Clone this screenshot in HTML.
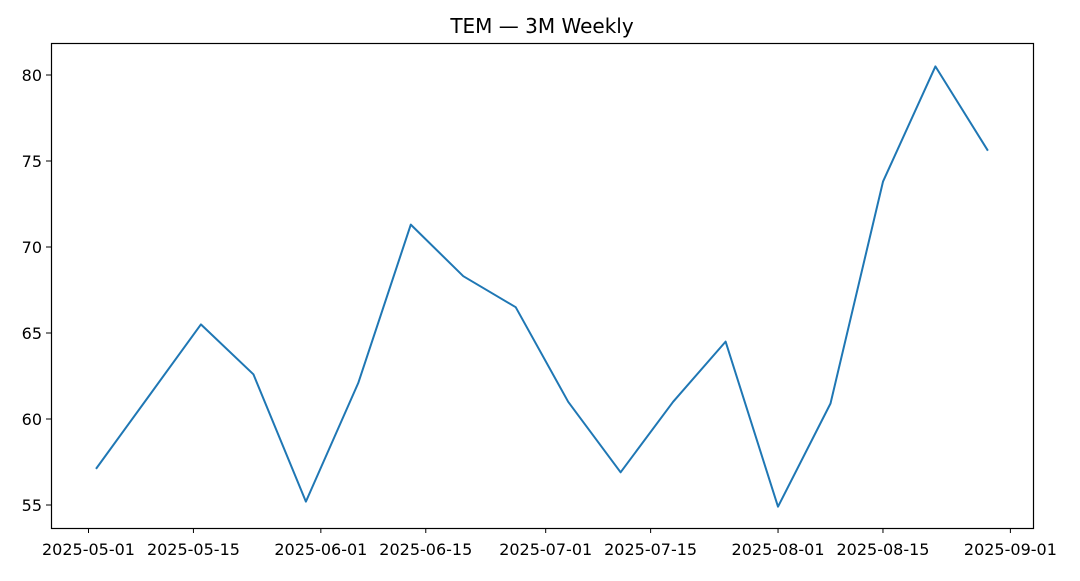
<!DOCTYPE html>
<html><head><meta charset="utf-8"><style>
body{margin:0;background:#fff;}
svg text{font-family:"DejaVu Sans","Liberation Sans",sans-serif;}
</style></head><body>
<svg width="1080" height="576" xmlns="http://www.w3.org/2000/svg">
<rect width="1080" height="576" fill="#fff"/>
<text x="542" y="33" text-anchor="middle" font-size="20">TEM — 3M Weekly</text>
<g id="ticks"></g>
<path id="line" fill="none" stroke="#1f77b4" stroke-width="2" stroke-linejoin="round"/>
<rect x="51.5" y="43.5" width="982" height="485" fill="none" stroke="#000" stroke-width="1.2"/>
</svg>
<script>
const dates=["2025-05-02","2025-05-09","2025-05-16","2025-05-23","2025-05-30","2025-06-06","2025-06-13","2025-06-20","2025-06-27","2025-07-04","2025-07-11","2025-07-18","2025-07-25","2025-08-01","2025-08-08","2025-08-15","2025-08-22","2025-08-29"];
const values=[57.1,61.3,65.5,62.6,55.2,62.1,71.3,68.3,66.5,61.0,56.9,61.0,64.5,54.9,60.9,73.8,80.5,75.6];
const xTicks=["2025-05-01","2025-05-15","2025-06-01","2025-06-15","2025-07-01","2025-07-15","2025-08-01","2025-08-15","2025-09-01"];
const yTicks=[55,60,65,70,75,80];
const day=86400000, t0=Date.parse("2025-05-01");
function X(d){return 88.5+(Date.parse(d)-t0)/day*7.495;}
function Y(v){return 75+(80-v)*17.2;}
const NS="http://www.w3.org/2000/svg", g=document.getElementById('ticks');
xTicks.forEach(t=>{const x=X(t);
 const l=document.createElementNS(NS,'line');l.setAttribute('x1',x);l.setAttribute('x2',x);l.setAttribute('y1',528);l.setAttribute('y2',533);l.setAttribute('stroke','#000');
 
 g.appendChild(l);
 const tx=document.createElementNS(NS,'text');tx.setAttribute('x',x);tx.setAttribute('y',555);tx.setAttribute('text-anchor','middle');tx.setAttribute('font-size','16');tx.textContent=t;
 
 g.appendChild(tx);});
yTicks.forEach(v=>{const y=Y(v);
 const l=document.createElementNS(NS,'line');l.setAttribute('x1',46);l.setAttribute('x2',51);l.setAttribute('y1',y);l.setAttribute('y2',y);l.setAttribute('stroke','#000');
 
 g.appendChild(l);
 const tx=document.createElementNS(NS,'text');tx.setAttribute('x',42);tx.setAttribute('y',y+6);tx.setAttribute('text-anchor','end');tx.setAttribute('font-size','16');tx.textContent=v;
 
 g.appendChild(tx);});
document.getElementById('line').setAttribute('d',dates.map((d,i)=>(i?'L':'M')+X(d).toFixed(1)+','+Y(values[i]).toFixed(1)).join(''));
</script>
</body></html>
